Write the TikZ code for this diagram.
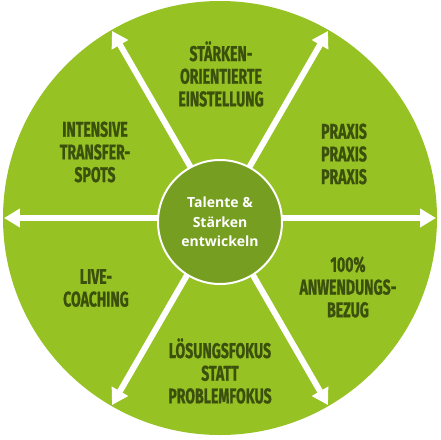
\documentclass[tikz,border=0pt]{standalone}
\usepackage{fontspec}
\usepackage{tikz}
\usetikzlibrary{arrows.meta}
\newfontfamily\labelfont[FakeStretch=0.66,FakeBold=0.8]{Fira Sans}
\newfontfamily\centerfont{Open Sans}
\definecolor{leaf}{RGB}{150,194,36}
\definecolor{moss}{RGB}{118,158,32}
\definecolor{bark}{RGB}{58,80,12}

\begin{document}
\begin{tikzpicture}[x=0.75pt,y=0.75pt,>={Triangle[width=13.5pt,length=12pt]},
                    line join=miter]
  \tikzstyle{spoke}=[<->,draw=white,line width=4.5pt]
  \tikzstyle{sector}=[text=bark,align=center,
                      font=\labelfont\bfseries\fontsize{16}{17}\selectfont]
  \useasboundingbox (-220,-221) rectangle (221,218);
  \fill[leaf] (0,0) circle (217);
  % ends of the six spokes on the rim
  \foreach \a in {0,60,...,300}
    \coordinate (e\a) at (\a:216);
  \draw[spoke] (e0) -- (e180);
  \draw[spoke] (e60) -- (e240);
  \draw[spoke] (e120) -- (e300);
  \node[circle,fill=moss,draw=white,line width=1.5pt,minimum size=93pt,
        inner sep=0pt,text=white,align=center,
        font=\centerfont\bfseries\fontsize{10.5}{14.5}\selectfont]
        (mitte) at (0,-4) {Talente \&\\Stärken\\entwickeln};
  \node[sector] (staerken)  at (1,144)   {STÄRKEN-\\ORIENTIERTE\\EINSTELLUNG};
  \node[sector] (praxis)    at (124,64)  {PRAXIS\\PRAXIS\\PRAXIS};
  \node[sector] (anwendung) at (128,-69) {100\%\\ANWENDUNGS-\\BEZUG};
  \node[sector] (loesung)   at (0,-153)  {LÖSUNGSFOKUS\\STATT\\PROBLEMFOKUS};
  \node[sector] (coaching)  at (-124,-70) {LIVE-\\COACHING};
  \node[sector] (transfer)  at (-125,66) {INTENSIVE\\TRANSFER-\\SPOTS};
\end{tikzpicture}
\end{document}
